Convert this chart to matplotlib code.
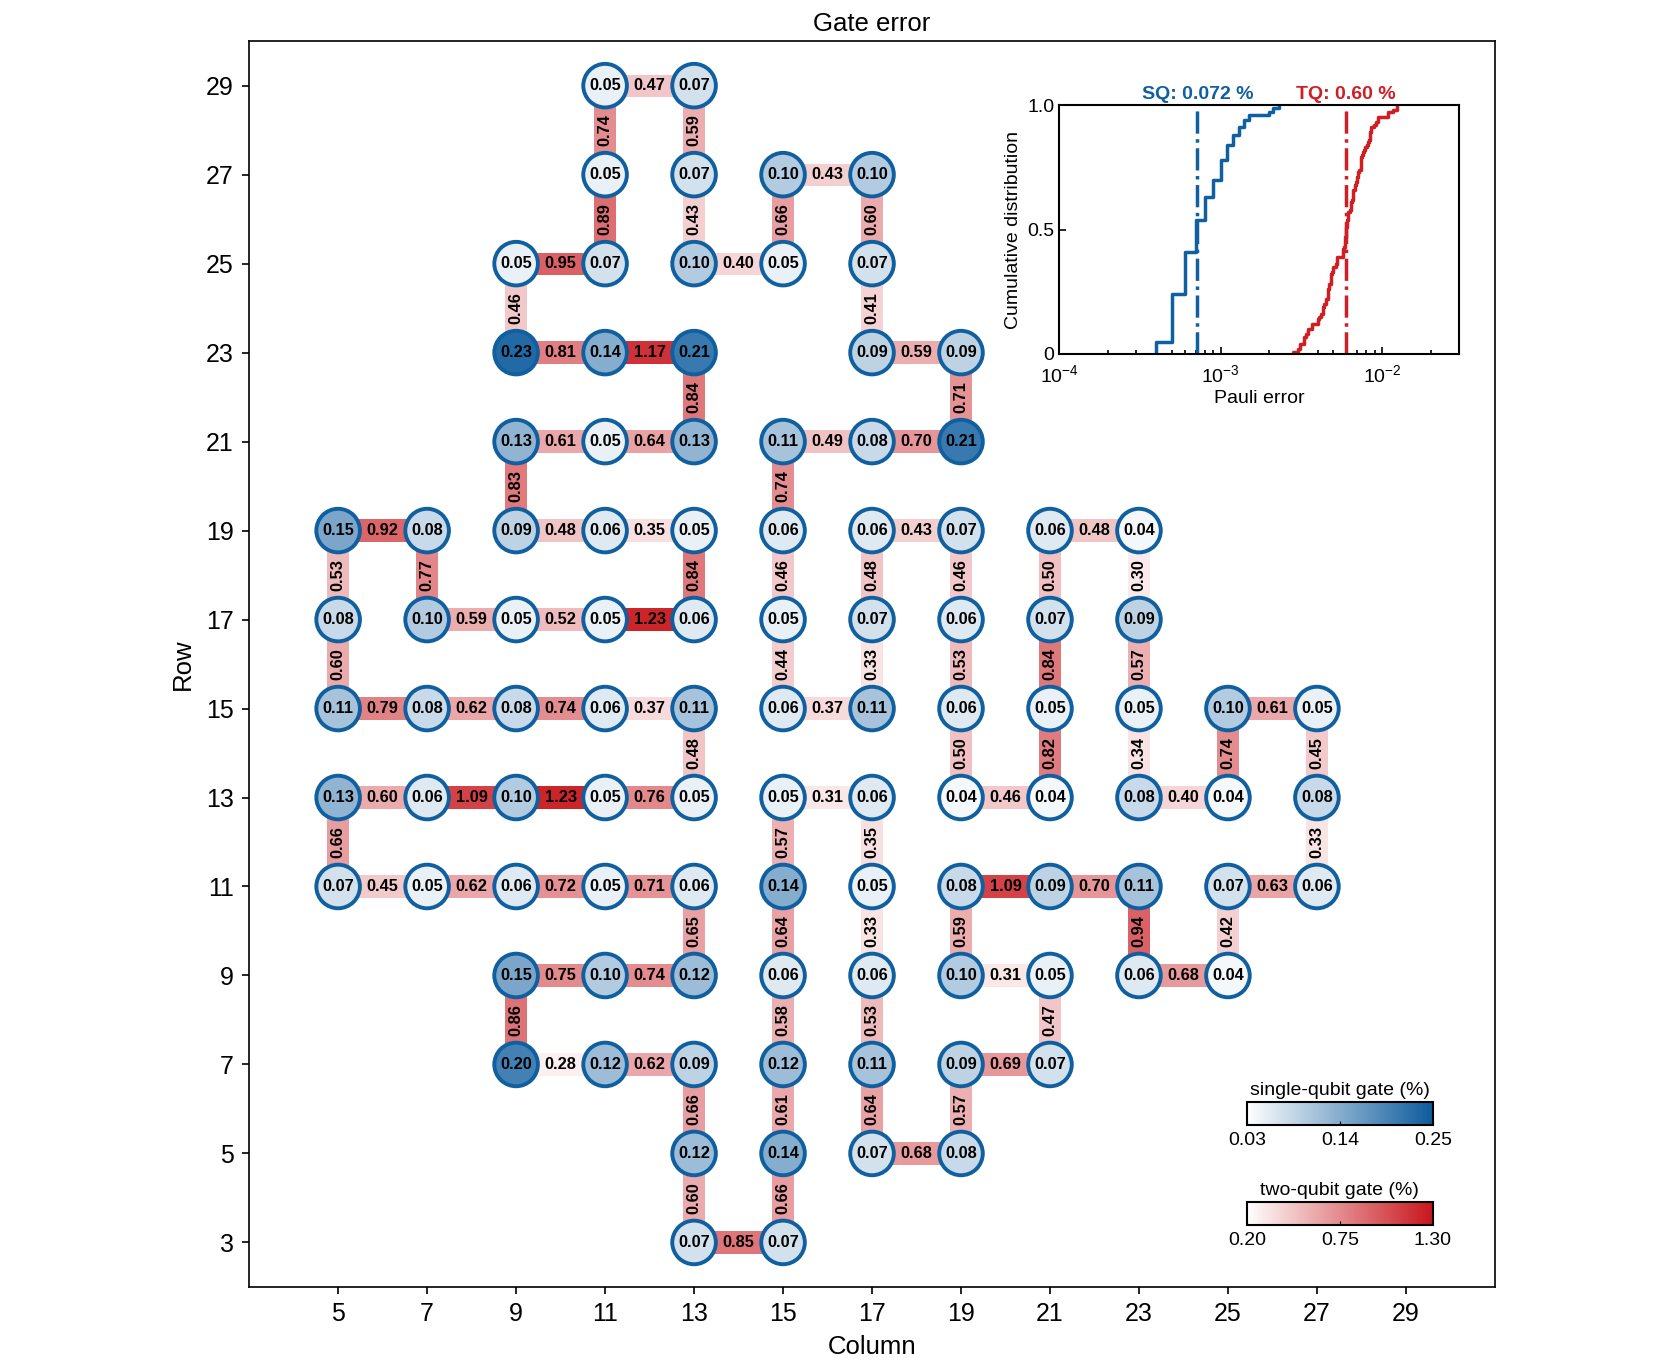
import numpy as np
import matplotlib
matplotlib.use('Agg')
import matplotlib.pyplot as plt
from matplotlib.patches import Circle, Rectangle
from matplotlib.colors import LinearSegmentedColormap, Normalize
from matplotlib.cm import ScalarMappable

plt.rcParams['font.family'] = ['Liberation Sans', 'DejaVu Sans']

# qubits: column, row, single-qubit gate error (%)
q_col = [11, 13,
         11, 13, 15, 17,
         9, 11, 13, 15, 17,
         9, 11, 13, 17, 19,
         9, 11, 13, 15, 17, 19,
         5, 7, 9, 11, 13, 15, 17, 19, 21, 23,
         5, 7, 9, 11, 13, 15, 17, 19, 21, 23,
         5, 7, 9, 11, 13, 15, 17, 19, 21, 23, 25, 27,
         5, 7, 9, 11, 13, 15, 17, 19, 21, 23, 25, 27,
         5, 7, 9, 11, 13, 15, 17, 19, 21, 23, 25, 27,
         9, 11, 13, 15, 17, 19, 21, 23, 25,
         9, 11, 13, 15, 17, 19, 21,
         13, 15, 17, 19,
         13, 15]
q_row = [29] * 2 + [27] * 4 + [25] * 5 + [23] * 5 + [21] * 6 + [19] * 10 + [17] * 10 \
    + [15] * 12 + [13] * 12 + [11] * 12 + [9] * 9 + [7] * 7 + [5] * 4 + [3] * 2
sq_err = [0.05, 0.07,
          0.05, 0.07, 0.10, 0.10,
          0.05, 0.07, 0.10, 0.05, 0.07,
          0.23, 0.14, 0.21, 0.09, 0.09,
          0.13, 0.05, 0.13, 0.11, 0.08, 0.21,
          0.15, 0.08, 0.09, 0.06, 0.05, 0.06, 0.06, 0.07, 0.06, 0.04,
          0.08, 0.10, 0.05, 0.05, 0.06, 0.05, 0.07, 0.06, 0.07, 0.09,
          0.11, 0.08, 0.08, 0.06, 0.11, 0.06, 0.11, 0.06, 0.05, 0.05, 0.10, 0.05,
          0.13, 0.06, 0.10, 0.05, 0.05, 0.05, 0.06, 0.04, 0.04, 0.08, 0.04, 0.08,
          0.07, 0.05, 0.06, 0.05, 0.06, 0.14, 0.05, 0.08, 0.09, 0.11, 0.07, 0.06,
          0.15, 0.10, 0.12, 0.06, 0.06, 0.10, 0.05, 0.06, 0.04,
          0.20, 0.12, 0.09, 0.12, 0.11, 0.09, 0.07,
          0.12, 0.14, 0.07, 0.08,
          0.07, 0.07]

# horizontal couplers: row, left column, two-qubit gate error (%)
h_row = [29, 27, 25, 25, 23, 23, 23, 21, 21, 21, 21,
         19, 19, 19, 19, 19, 17, 17, 17,
         15, 15, 15, 15, 15, 15,
         13, 13, 13, 13, 13, 13, 13,
         11, 11, 11, 11, 11, 11, 11,
         9, 9, 9, 9, 7, 7, 7, 5, 3]
h_col = [11, 15, 9, 13, 9, 11, 17, 9, 11, 15, 17,
         5, 9, 11, 17, 21, 7, 9, 11,
         5, 7, 9, 11, 15, 25,
         5, 7, 9, 11, 15, 19, 23,
         5, 7, 9, 11, 19, 21, 25,
         9, 11, 19, 23, 9, 11, 19, 17, 13]
h_err = [0.47, 0.43, 0.95, 0.40, 0.81, 1.17, 0.59, 0.61, 0.64, 0.49, 0.70,
         0.92, 0.48, 0.35, 0.43, 0.48, 0.59, 0.52, 1.23,
         0.79, 0.62, 0.74, 0.37, 0.37, 0.61,
         0.60, 1.09, 1.23, 0.76, 0.31, 0.46, 0.40,
         0.45, 0.62, 0.72, 0.71, 1.09, 0.70, 0.63,
         0.75, 0.74, 0.31, 0.68, 0.28, 0.62, 0.69, 0.68, 0.85]

# vertical couplers: column, lower row, two-qubit gate error (%)
v_col = [11, 13, 11, 13, 15, 17, 9, 17, 13, 19, 9, 15,
         5, 7, 13, 15, 17, 19, 21, 23,
         5, 15, 17, 19, 21, 23,
         13, 19, 21, 23, 25, 27,
         5, 15, 17, 27,
         13, 15, 17, 19, 23, 25,
         9, 15, 17, 21,
         13, 15, 17, 19,
         13, 15]
v_row = [27, 27, 25, 25, 25, 25, 23, 23, 21, 21, 19, 19] + [17] * 8 + [15] * 6 \
    + [13] * 6 + [11] * 4 + [9] * 6 + [7] * 4 + [5] * 4 + [3] * 2
v_err = [0.74, 0.59, 0.89, 0.43, 0.66, 0.60, 0.46, 0.41, 0.84, 0.71, 0.83, 0.74,
         0.53, 0.77, 0.84, 0.46, 0.48, 0.46, 0.50, 0.30,
         0.60, 0.44, 0.33, 0.53, 0.84, 0.57,
         0.48, 0.50, 0.82, 0.34, 0.74, 0.45,
         0.66, 0.57, 0.35, 0.33,
         0.65, 0.64, 0.33, 0.59, 0.94, 0.42,
         0.86, 0.58, 0.53, 0.47,
         0.66, 0.61, 0.64, 0.57,
         0.60, 0.66]

sq_median = 0.072
tq_median = 0.60

blue = '#105f9f'
red = '#cf1f24'
sq_cmap = LinearSegmentedColormap.from_list('sq', ['#ffffff', '#0c5b9d'])
tq_cmap = LinearSegmentedColormap.from_list('tq', ['#ffffff', '#c8161c'])
sq_norm = Normalize(0.03, 0.25)
tq_norm = Normalize(0.20, 1.30)

fig = plt.figure(figsize=(16.61, 13.71), dpi=100)
ax = fig.add_axes([0.150, 0.0613, 0.750, 0.9087])

bar_w = 0.5
lab = dict(ha='center', va='center', fontsize=11.8, fontweight='bold', zorder=4)

for r, c, e in zip(h_row, h_col, h_err):
    ax.add_patch(Rectangle((c, r - bar_w / 2), 2, bar_w, facecolor=tq_cmap(tq_norm(e)),
                           edgecolor='none', zorder=1))
    ax.text(c + 1, r, f'{e:.2f}', **lab)

for c, r, e in zip(v_col, v_row, v_err):
    ax.add_patch(Rectangle((c - bar_w / 2, r), bar_w, 2, facecolor=tq_cmap(tq_norm(e)),
                           edgecolor='none', zorder=1))
    ax.text(c, r + 1, f'{e:.2f}', rotation=90, **lab)

for c, r, e in zip(q_col, q_row, sq_err):
    ax.add_patch(Circle((c, r), 0.49, facecolor=sq_cmap(sq_norm(e)),
                        edgecolor=blue, linewidth=2.8, zorder=2))
    ax.text(c, r, f'{e:.2f}', **lab)

ax.set_xlim(3, 31)
ax.set_ylim(2, 30)
ax.set_aspect('equal')
ax.set_xticks(range(5, 30, 2))
ax.set_yticks(range(3, 30, 2))
ax.tick_params(direction='out', labelsize=18, length=5, width=1.2, pad=6)
for s in ax.spines.values():
    s.set_linewidth(1.2)
ax.set_xlabel('Column', fontsize=18.5, labelpad=6)
ax.set_ylabel('Row', fontsize=18.5, labelpad=8)
ax.set_title('Gate error', fontsize=18.5, pad=7)

# inset: cumulative distributions
ax_in = fig.add_axes([0.6376, 0.7418, 0.2408, 0.1816])
ax_in.ecdf(np.array(sq_err) / 100, color=blue, lw=2.5)
ax_in.ecdf(np.array(h_err + v_err) / 100, color=red, lw=2.5)
ax_in.axvline(sq_median / 100, color=blue, ls='-.', lw=2.5)
ax_in.axvline(tq_median / 100, color=red, ls='-.', lw=2.5)
ax_in.set_xscale('log')
ax_in.set_xlim(1e-4, 3e-2)
ax_in.set_ylim(0, 1)
ax_in.set_yticks([0, 0.5, 1.0])
ax_in.set_yticklabels(['0', '0.5', '1.0'])
ax_in.tick_params(which='both', direction='in', labelsize=14, width=1.2)
ax_in.tick_params(axis='x', pad=7)
ax_in.tick_params(which='major', length=5)
ax_in.tick_params(which='minor', length=3)
for s in ax_in.spines.values():
    s.set_linewidth(1.5)
ax_in.set_xlabel('Pauli error', fontsize=14, labelpad=3)
ax_in.set_ylabel('Cumulative distribution', fontsize=14, labelpad=4)
ax_in.text(sq_median / 100, 1.01, f'SQ: {sq_median:.3f} %', color=blue, fontsize=14,
           fontweight='bold', ha='center', va='bottom')
ax_in.text(tq_median / 100, 1.01, f'TQ: {tq_median:.2f} %', color=red, fontsize=14,
           fontweight='bold', ha='center', va='bottom')

# colour bars
for cmap, norm, ticks, title, bottom in [
        (sq_cmap, sq_norm, [0.03, 0.14, 0.25], 'single-qubit gate (%)', 0.1794),
        (tq_cmap, tq_norm, [0.20, 0.75, 1.30], 'two-qubit gate (%)', 0.1065)]:
    cax = fig.add_axes([0.7507, bottom, 0.112, 0.0168])
    cb = fig.colorbar(ScalarMappable(norm=norm, cmap=cmap), cax=cax,
                      orientation='horizontal', ticks=ticks)
    cb.ax.set_xticklabels([f'{t:.2f}' for t in ticks])
    cb.ax.tick_params(direction='in', length=3, labelsize=14, pad=5)
    cb.outline.set_linewidth(1.5)
    cb.ax.set_title(title, fontsize=14, pad=5)

fig.savefig('out.png', dpi=100)
